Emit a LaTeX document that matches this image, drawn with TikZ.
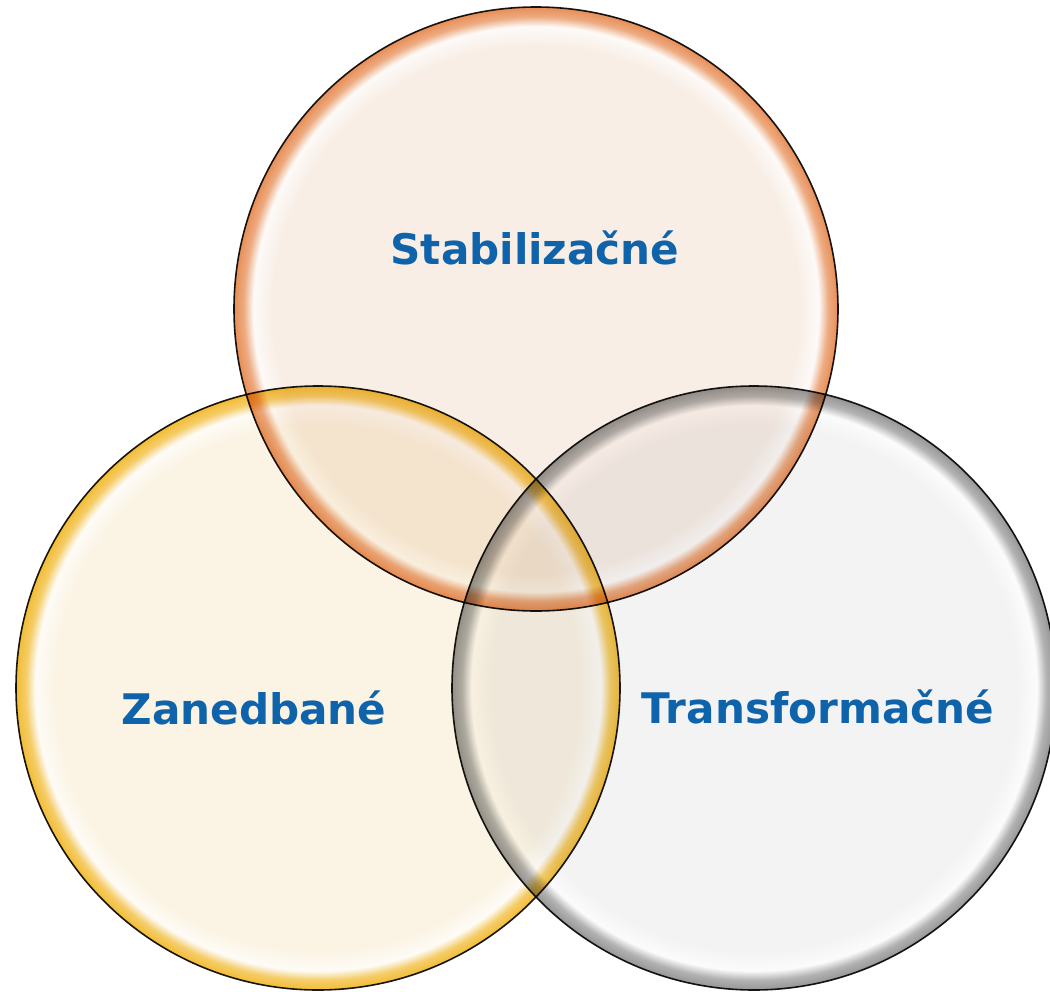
\documentclass[tikz,border=0pt]{standalone}
\usepackage{fontspec}
\setmainfont{DejaVu Sans}
\definecolor{labelblue}{RGB}{15,99,170}
\definecolor{orfill}{RGB}{248,238,230}
\definecolor{orrim}{RGB}{232,142,86}
\definecolor{yefill}{RGB}{251,244,228}
\definecolor{yerim}{RGB}{242,188,52}
\definecolor{grfill}{RGB}{243,243,244}
\definecolor{grrim}{RGB}{150,150,150}
\pgfdeclareradialshading{orangeball}{\pgfpoint{0bp}{0bp}}{%
  color(0bp)=(orfill); color(21.8bp)=(orfill); color(23.4bp)=(white!70!orfill);
  color(24.2bp)=(orrim!70!orfill); color(25bp)=(orrim); color(50bp)=(orrim)}
\pgfdeclareradialshading{yellowball}{\pgfpoint{0bp}{0bp}}{%
  color(0bp)=(yefill); color(21.8bp)=(yefill); color(23.4bp)=(white!70!yefill);
  color(24.2bp)=(yerim!70!yefill); color(25bp)=(yerim); color(50bp)=(yerim)}
\pgfdeclareradialshading{grayball}{\pgfpoint{0bp}{0bp}}{%
  color(0bp)=(grfill); color(21.8bp)=(grfill); color(23.4bp)=(white!70!grfill);
  color(24.2bp)=(grrim!70!grfill); color(25bp)=(grrim); color(50bp)=(grrim)}
\begin{document}
\begin{tikzpicture}[x=0.75pt,y=-0.75pt,
    ring/.style={circle,draw=black!90,line width=1.2pt,inner sep=0pt,outer sep=0pt,
      minimum size=453pt,blend mode=multiply},
    label/.style={text=labelblue,font=\bfseries\fontsize{31.6}{38}\selectfont,
      anchor=base,inner sep=0pt}]
    \useasboundingbox (0,0) rectangle (1050,992);
    \node[ring,shading=orangeball] (stab) at (536,309) {};
    \node[ring,shading=yellowball] (zaned) at (318,688) {};
    \node[ring,shading=grayball] (transf) at (754,688) {};
    \node[label] (stabtext) at (535,264) {Stabilizačné};
    \node[label] (zanedtext) at (254,724) {Zanedbané};
    \node[label] (transftext) at (818,723) {Transformačné};
\end{tikzpicture}
\end{document}
